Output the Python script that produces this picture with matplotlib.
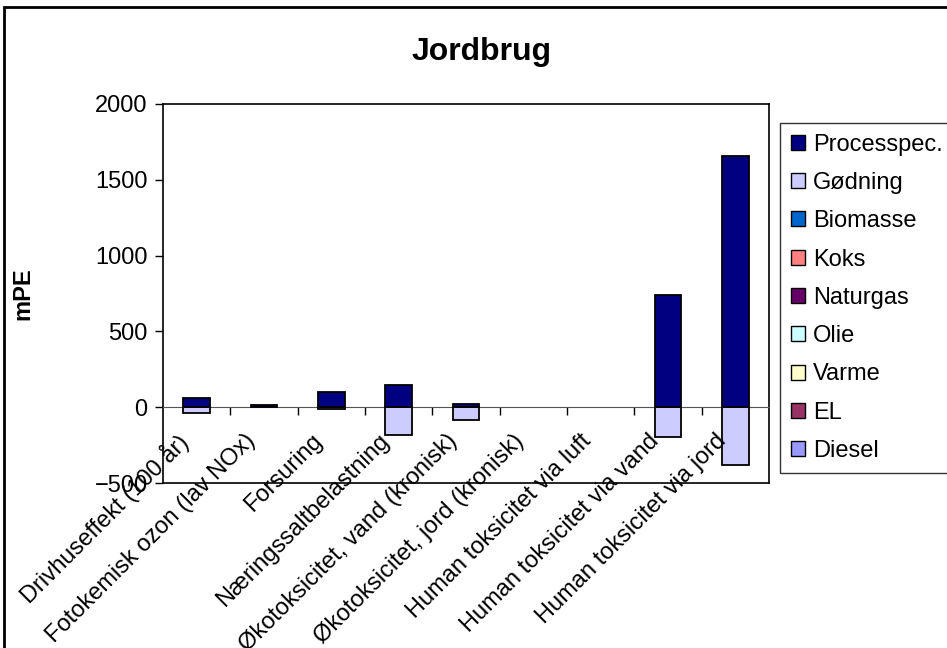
import matplotlib
matplotlib.use("Agg")
import matplotlib.pyplot as plt
from matplotlib.patches import Rectangle
import numpy as np

plt.rcParams['font.family'] = ['Liberation Sans', 'DejaVu Sans']

categories = ["Drivhuseffekt (100 år)", "Fotokemisk ozon (lav NOx)", "Forsuring",
              "Næringssaltbelastning", "Økotoksicitet, vand (kronisk)",
              "Økotoksicitet, jord (kronisk)", "Human toksicitet via luft",
              "Human toksicitet via vand", "Human toksicitet via jord"]

# series in stacking order (bottom first); legend shows them reversed
series_names = ["Diesel", "EL", "Varme", "Olie", "Naturgas", "Koks", "Biomasse", "Gødning", "Processpec."]
series_colors = ["#9999FF", "#993366", "#FFFFCC", "#CCFFFF", "#660066", "#FF8080", "#0066CC", "#CCCCFF", "#000080"]

diesel = [0, 0, 0, 0, 0, 0, 0, 0, 0]
el = [0, 0, 0, 0, 0, 0, 0, 0, 0]
varme = [0, 0, 0, 0, 0, 0, 0, 0, 0]
olie = [0, 0, 0, 0, 0, 0, 0, 0, 0]
naturgas = [0, 0, 0, 0, 0, 0, 0, 0, 0]
koks = [0, 0, 0, 0, 0, 0, 0, 0, 0]
biomasse = [0, 0, 0, 0, 0, 0, 0, 0, 0]
goedning = [-40, 0, -12, -185, -85, 0, 0, -195, -380]
processpec = [60, 12, 103, 147, 18, 0, 0, 743, 1655]

series_values = [diesel, el, varme, olie, naturgas, koks, biomasse, goedning, processpec]

fig = plt.figure(figsize=(9.47, 6.48), dpi=100)
ax = fig.add_axes([163 / 947, 1 - 483 / 648, 606 / 947, 379 / 648])

x = np.arange(len(categories))
pos_bottom = np.zeros(len(categories))
neg_bottom = np.zeros(len(categories))
handles = []
for name, color, vals in zip(series_names, series_colors, series_values):
    vals = np.array(vals, dtype=float)
    bottoms = np.where(vals >= 0, pos_bottom, neg_bottom)
    nz = vals != 0
    ax.bar(x[nz], vals[nz], width=0.4, bottom=bottoms[nz], color=color, edgecolor='black',
           linewidth=1.3, zorder=3)
    handles.append(Rectangle((0, 0), 1, 1, facecolor=color, edgecolor='black', linewidth=1.0))
    pos_bottom += np.clip(vals, 0, None)
    neg_bottom += np.clip(vals, None, 0)

ax.set_xlim(-0.5, len(categories) - 0.5)
ax.set_ylim(-500, 2000)
ax.set_yticks([-500, 0, 500, 1000, 1500, 2000])
ax.tick_params(axis='y', labelsize=17, length=6, width=1, direction='out', pad=5)

# category axis through zero with tick marks between categories
ax.spines['bottom'].set_position(('data', 0))
ax.spines['bottom'].set_color('#555555')
ax.set_xticks(np.arange(len(categories) - 1) + 0.5)
ax.set_xticklabels([])
ax.tick_params(axis='x', length=6, width=1, direction='out', color='black')
ax.plot([0, 1], [0, 0], transform=ax.transAxes, color='black', lw=1.2, clip_on=False)
for s in ['top', 'right', 'left']:
    ax.spines[s].set_linewidth(1.2)

for i, lab in enumerate(categories):
    ax.text(i - 0.3, 0.14, lab, transform=ax.get_xaxis_transform(), rotation=45,
            rotation_mode='anchor', ha='right', va='top', fontsize=17)

ax.set_ylabel('mPE', fontsize=17, fontweight='bold')
ax.yaxis.set_label_coords(-0.213, 0.5)
fig.text(482 / 947, 1 - 52 / 648, 'Jordbrug', fontsize=23, fontweight='bold',
         ha='center', va='center')

leg = fig.legend(handles[::-1], series_names[::-1], loc='upper left',
                 bbox_to_anchor=(780 / 947, 1 - 123 / 648), fontsize=17,
                 frameon=True, fancybox=False, edgecolor='black',
                 handlelength=0.6, handleheight=0.6, handletextpad=0.35,
                 labelspacing=0.69, borderpad=0.45, borderaxespad=0)
leg.get_frame().set_linewidth(1.0)

fig.patches.append(Rectangle((4 / 947, -0.1), 1.2, 1.1 - 7 / 648, transform=fig.transFigure,
                             fill=False, edgecolor='black', linewidth=2))

fig.savefig('out.png', dpi=100)
